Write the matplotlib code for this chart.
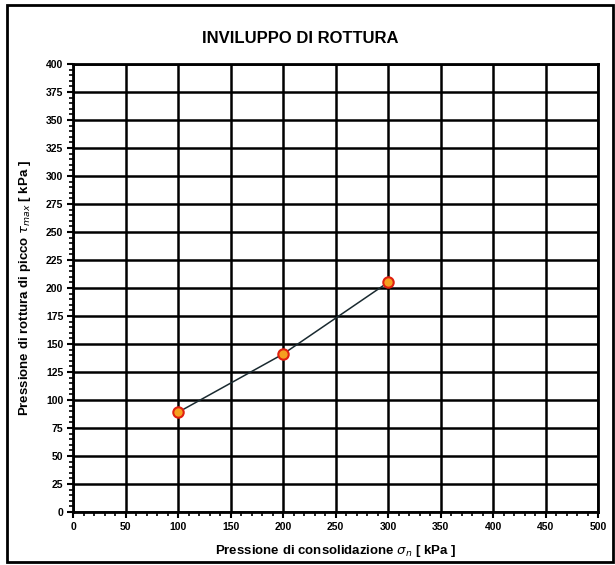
import matplotlib.pyplot as plt
from matplotlib.patches import Rectangle
from matplotlib.ticker import MultipleLocator

plt.rcParams['font.family'] = ['Liberation Sans', 'DejaVu Sans']

# dati
sigma_n = [100, 200, 300]
tau_max = [89, 141, 205]

x_ticks = list(range(0, 501, 50))
y_ticks = list(range(0, 401, 25))

fig = plt.figure(figsize=(6.15, 5.65), dpi=100)
ax = fig.add_axes([0.1187, 0.0938, 0.8537, 0.7929])

# cornice esterna
fig.patches.append(Rectangle((0.012, 0.006), 0.985, 0.985, transform=fig.transFigure,
                             fill=False, edgecolor='black', linewidth=2))

ax.plot(sigma_n, tau_max, '-', color='#1a2a30', linewidth=1.1, zorder=3)
ax.plot(sigma_n, tau_max, 'o', markersize=7.5, markerfacecolor='#f5a020',
        markeredgecolor='#e02010', markeredgewidth=1.5, zorder=4)

ax.set_xlim(0, 500)
ax.set_ylim(0, 400)
ax.set_xticks(x_ticks)
ax.set_yticks(y_ticks)
ax.xaxis.set_minor_locator(MultipleLocator(10))
ax.yaxis.set_minor_locator(MultipleLocator(5))
ax.tick_params(which='major', direction='out', length=4, width=1.5, labelsize=7.5, pad=3)
ax.tick_params(which='minor', direction='out', length=3, width=1.2)
for lab in ax.get_xticklabels() + ax.get_yticklabels():
    lab.set_fontweight('bold')

ax.grid(True, which='major', color='black', linewidth=1.8)
for s in ax.spines.values():
    s.set_linewidth(2)

ax.set_xlabel('Pressione di consolidazione $\\sigma_n$ [ kPa ]', fontsize=9.5,
              fontweight='bold', labelpad=8)
ax.set_ylabel('Pressione di rottura di picco $\\tau_{max}$ [ kPa ]', fontsize=9.5,
              fontweight='bold', labelpad=9)
fig.text(0.488, 0.932, 'INVILUPPO DI ROTTURA', ha='center', va='center',
         fontsize=12, fontweight='bold')

fig.savefig('out.png', dpi=100)
